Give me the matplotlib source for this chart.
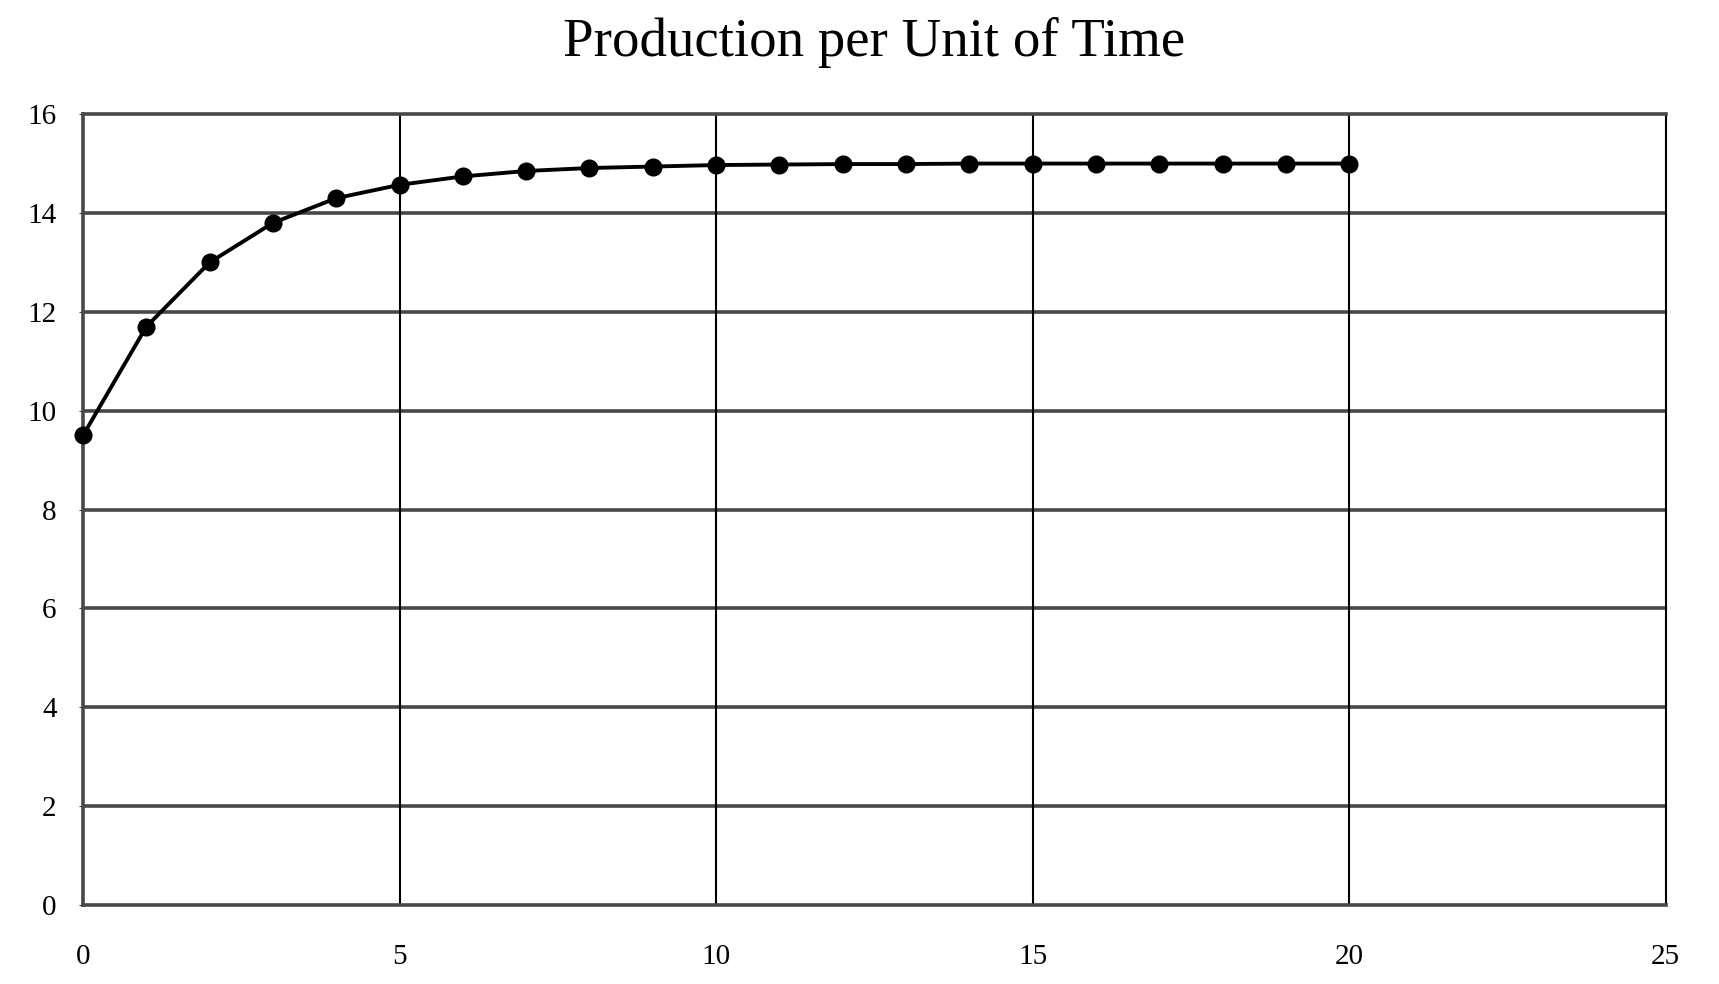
import matplotlib.pyplot as plt

# values
time = list(range(21))
production = [9.5, 11.7, 13.0, 13.8, 14.3, 14.57, 14.74, 14.85, 14.91, 14.94,
              14.97, 14.98, 14.99, 14.99, 15.0, 15.0, 15.0, 15.0, 15.0, 15.0, 15.0]
x_ticks = [0, 5, 10, 15, 20, 25]
y_ticks = [0, 2, 4, 6, 8, 10, 12, 14, 16]

plt.rcParams['font.family'] = ['Liberation Serif', 'DejaVu Serif']

fig = plt.figure(figsize=(17.19, 9.84), dpi=100)
ax = fig.add_axes([0.0483, 0.0803, 0.9207, 0.8037])

ax.plot(time, production, color="black", lw=2.8, marker="o", ms=12,
        zorder=3, clip_on=False)

ax.set_xlim(0, 25)
ax.set_ylim(0, 16)
ax.set_xticks(x_ticks)
ax.set_yticks(y_ticks)

# horizontal grid grey and heavy, vertical grid black and thin
for y in y_ticks[1:-1]:
    ax.axhline(y, color="#484848", lw=2.6, zorder=1)
for x in x_ticks[1:-1]:
    ax.axvline(x, color="black", lw=1.5, zorder=1)

for side in ["left", "bottom", "top"]:
    ax.spines[side].set_color("#484848")
    ax.spines[side].set_linewidth(2.6)
ax.spines["right"].set_color("black")
ax.spines["right"].set_linewidth(1.5)

ax.tick_params(axis="x", length=0, pad=28, labelsize=21)
ax.tick_params(axis="y", length=3, pad=16, labelsize=21, color="#484848")

ax.set_title("Production per Unit of Time", fontsize=39.5, pad=42)

fig.savefig("out.png", dpi=100)
